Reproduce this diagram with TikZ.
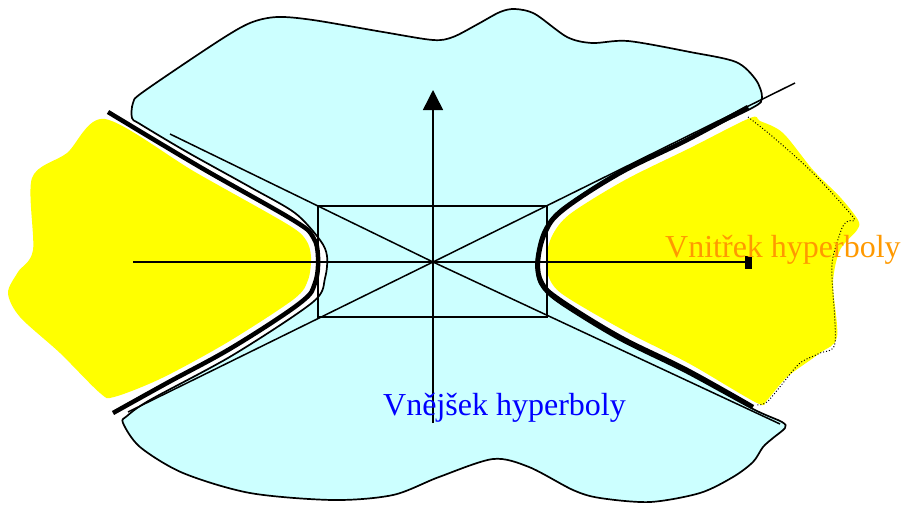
\documentclass[tikz,border=0pt]{standalone}
\usepackage{fontspec}
\setmainfont{Liberation Serif}
\usetikzlibrary{arrows.meta}
\definecolor{blobcyan}{HTML}{CCFFFF}
\definecolor{innerylw}{HTML}{FFFF00}
\definecolor{innerorg}{HTML}{FF9900}

\begin{document}
\begin{tikzpicture}[x=1pt,y=-1pt,
  thinline/.style={line width=1.5pt},
  blobline/.style={line width=1.7pt},
  branch/.style={line width=4.5pt},
  hyptext/.style={font=\fontsize{32}{38}\selectfont, inner sep=0pt, anchor=base west}]
  \useasboundingbox (0,0) rectangle (901,504);
  % outer region
  \draw[blobline, fill=blobcyan] plot[smooth cycle, tension=0.5] coordinates {
    (132,118) (133,103) (143,92) (217,42) (250,23) (277,17) (313,20) (383,32) (433,40) (453,37)
    (478,24) (500,12) (515,9) (535,14) (567,37) (592,43) (628,41) (690,52) (736,62) (756,80)
    (762,98) (752,108) (685,140) (618,172) (561,209) (543,232) (536,262) (540,284) (558,302)
    (618,339) (685,372) (753,409) (782,422) (785,428) (773,438) (763,447) (753,462) (733,477)
    (700,493) (650,502) (600,498) (573,490) (529,467) (493,459) (439,477) (393,495) (333,500)
    (250,493) (183,473) (140,447) (123,423) (127,416) (150,400) (233,355) (313,302) (325,278)
    (327,256) (320,240) (295,213) (250,187) (187,152) (140,124)};
  % inner regions
  \fill[innerylw] plot[smooth cycle, tension=0.5] coordinates {
    (105,119) (195,172) (287,224) (306,240) (311,257) (308,280) (294,299) (228,342) (162,378)
    (114,397) (100,393) (60,353) (20,317) (8,293) (18,272) (33,250) (32,178) (67,153)};
  \fill[innerylw] plot[smooth cycle, tension=0.5] coordinates {
    (750,118) (690,148) (625,180) (570,214) (552,236) (546,260) (550,280) (565,296) (625,331)
    (690,364) (757,403) (767,400) (787,377) (820,353) (837,337) (833,283) (840,250) (857,230)
    (858,220) (840,197) (813,170) (783,133) (760,121)};
  \draw[line width=1pt, dotted] plot[smooth, tension=0.5] coordinates {
    (748,117) (773,137) (813,173) (853,217) (848,221) (842,228) (833,257) (832,277) (835,343)
    (820,353) (800,363) (783,383) (767,402) (757,405)};
  % box and asymptotes
  \coordinate (O) at (433,262);
  \draw[thinline] (318,206) rectangle (547,317);
  \draw[thinline] (170,134) -- (O) -- (780,424);
  \draw[thinline] (128,412) -- (O) -- (795,83);
  % axes
  \coordinate (xs) at (133,262);
  \coordinate (xe) at (752,262);
  \coordinate (ys) at (433,423);
  \coordinate (ye) at (433,90);
  \draw[thinline, -{Rectangle[length=7pt,width=13pt]}] (xs) -- (xe);
  \draw[thinline, -{Triangle[length=20pt,width=20pt]}] (ys) -- (ye);
  % branches
  \draw[branch] plot[smooth, tension=0.6] coordinates {
    (108,112) (200,167) (293,220) (313,237) (318,257) (315,283) (300,303) (233,347) (167,383) (113,413)};
  \draw[branch] plot[smooth, tension=0.6] coordinates {
    (748,107) (687,140) (620,173) (563,210) (545,233) (538,262) (542,283) (560,300) (620,337) (687,370) (753,407)};
  \node[hyptext, text=blue] (outer) at (383,415) {Vnějšek hyperboly};
  \node[hyptext, text=innerorg] (inner) at (665,257) {Vnitřek hyperboly};
\end{tikzpicture}
\end{document}
